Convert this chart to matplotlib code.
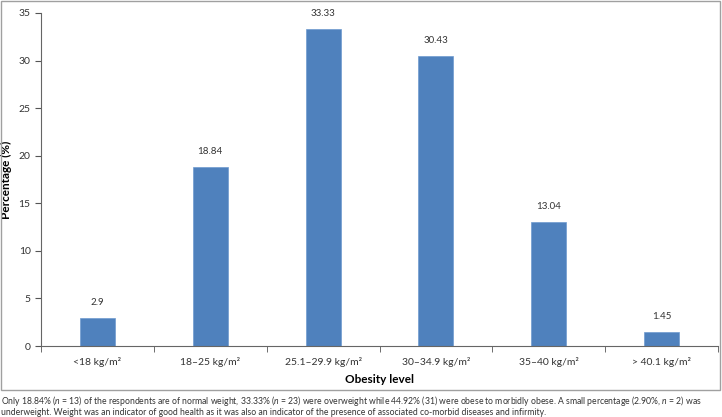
import matplotlib.pyplot as plt
from matplotlib.patches import Rectangle

# data
categories = ['<18 kg/m²', '18–25 kg/m²', '25.1–29.9 kg/m²', '30–34.9 kg/m²', '35–40 kg/m²', '> 40.1 kg/m²']
percentages = [2.9, 18.84, 33.33, 30.43, 13.04, 1.45]
value_labels = ['2.9', '18.84', '33.33', '30.43', '13.04', '1.45']
yticks = [0, 5, 10, 15, 20, 25, 30, 35]

caption = ("Only 18.84% ($n$ = 13) of the respondents are of normal weight, 33.33% ($n$ = 23) were overweight while 44.92% (31) "
           "were obese to morbidly obese. A small percentage (2.90%, $n$ = 2) was\n"
           "underweight. Weight was an indicator of good health as it was also an indicator of the presence of associated "
           "co-morbid diseases and infirmity.")

plt.rcParams['font.family'] = ['Lato', 'DejaVu Sans']
plt.rcParams['mathtext.fontset'] = 'custom'
plt.rcParams['mathtext.it'] = 'Lato:italic'
plt.rcParams['mathtext.rm'] = 'Lato'

W, H = 722, 417
fig = plt.figure(figsize=(W / 100, H / 100), dpi=100)
ax = fig.add_axes([41 / W, 1 - 346 / H, 677 / W, 333 / H])

x = range(len(categories))
bars = ax.bar(x, percentages, width=0.31, color='#4F81BD', edgecolor='#6f9ad0', linewidth=0.5, zorder=2)
for xi, v, lab in zip(x, percentages, value_labels):
    ax.annotate(lab, (xi, v), xytext=(0, 8), textcoords='offset points',
                ha='center', va='bottom', fontsize=7, color='#333333')

ax.set_xlim(-0.5, len(categories) - 0.5)
ax.set_ylim(0, 35)
ax.set_yticks(yticks)
ax.set_xticks(x)
ax.set_xticklabels(categories)
ax.set_xticks([i + 0.5 for i in range(-1, len(categories))], minor=True)
ax.tick_params(axis='x', which='major', length=0, pad=8, labelsize=7.5, labelcolor='#333333')
ax.tick_params(axis='x', which='minor', length=4, direction='out', color='#555555')
ax.tick_params(axis='y', length=4, direction='out', labelsize=7.5, labelcolor='#333333', color='#555555')

for s in ['top', 'right']:
    ax.spines[s].set_visible(False)
for s in ['left', 'bottom']:
    ax.spines[s].set_color('#666666')
    ax.spines[s].set_linewidth(0.8)

ax.set_xlabel('Obesity level', fontsize=8.5, fontweight='bold', labelpad=5)
ax.set_ylabel('Percentage (%)', fontsize=8.5, fontweight='bold')
ax.yaxis.set_label_coords(-29 / 677, 0.5)

# outer frame around the chart
fig.patches.append(Rectangle((1 / W, 1 - 390 / H), 719 / W, 389 / H, transform=fig.transFigure,
                             fill=False, edgecolor='#a0a0a0', linewidth=1))

fig.text(1 / W, 1 - 394 / H, caption, ha='left', va='top', fontsize=6.2, color='#333333', linespacing=1.0)

fig.savefig('out.png', dpi=100)
